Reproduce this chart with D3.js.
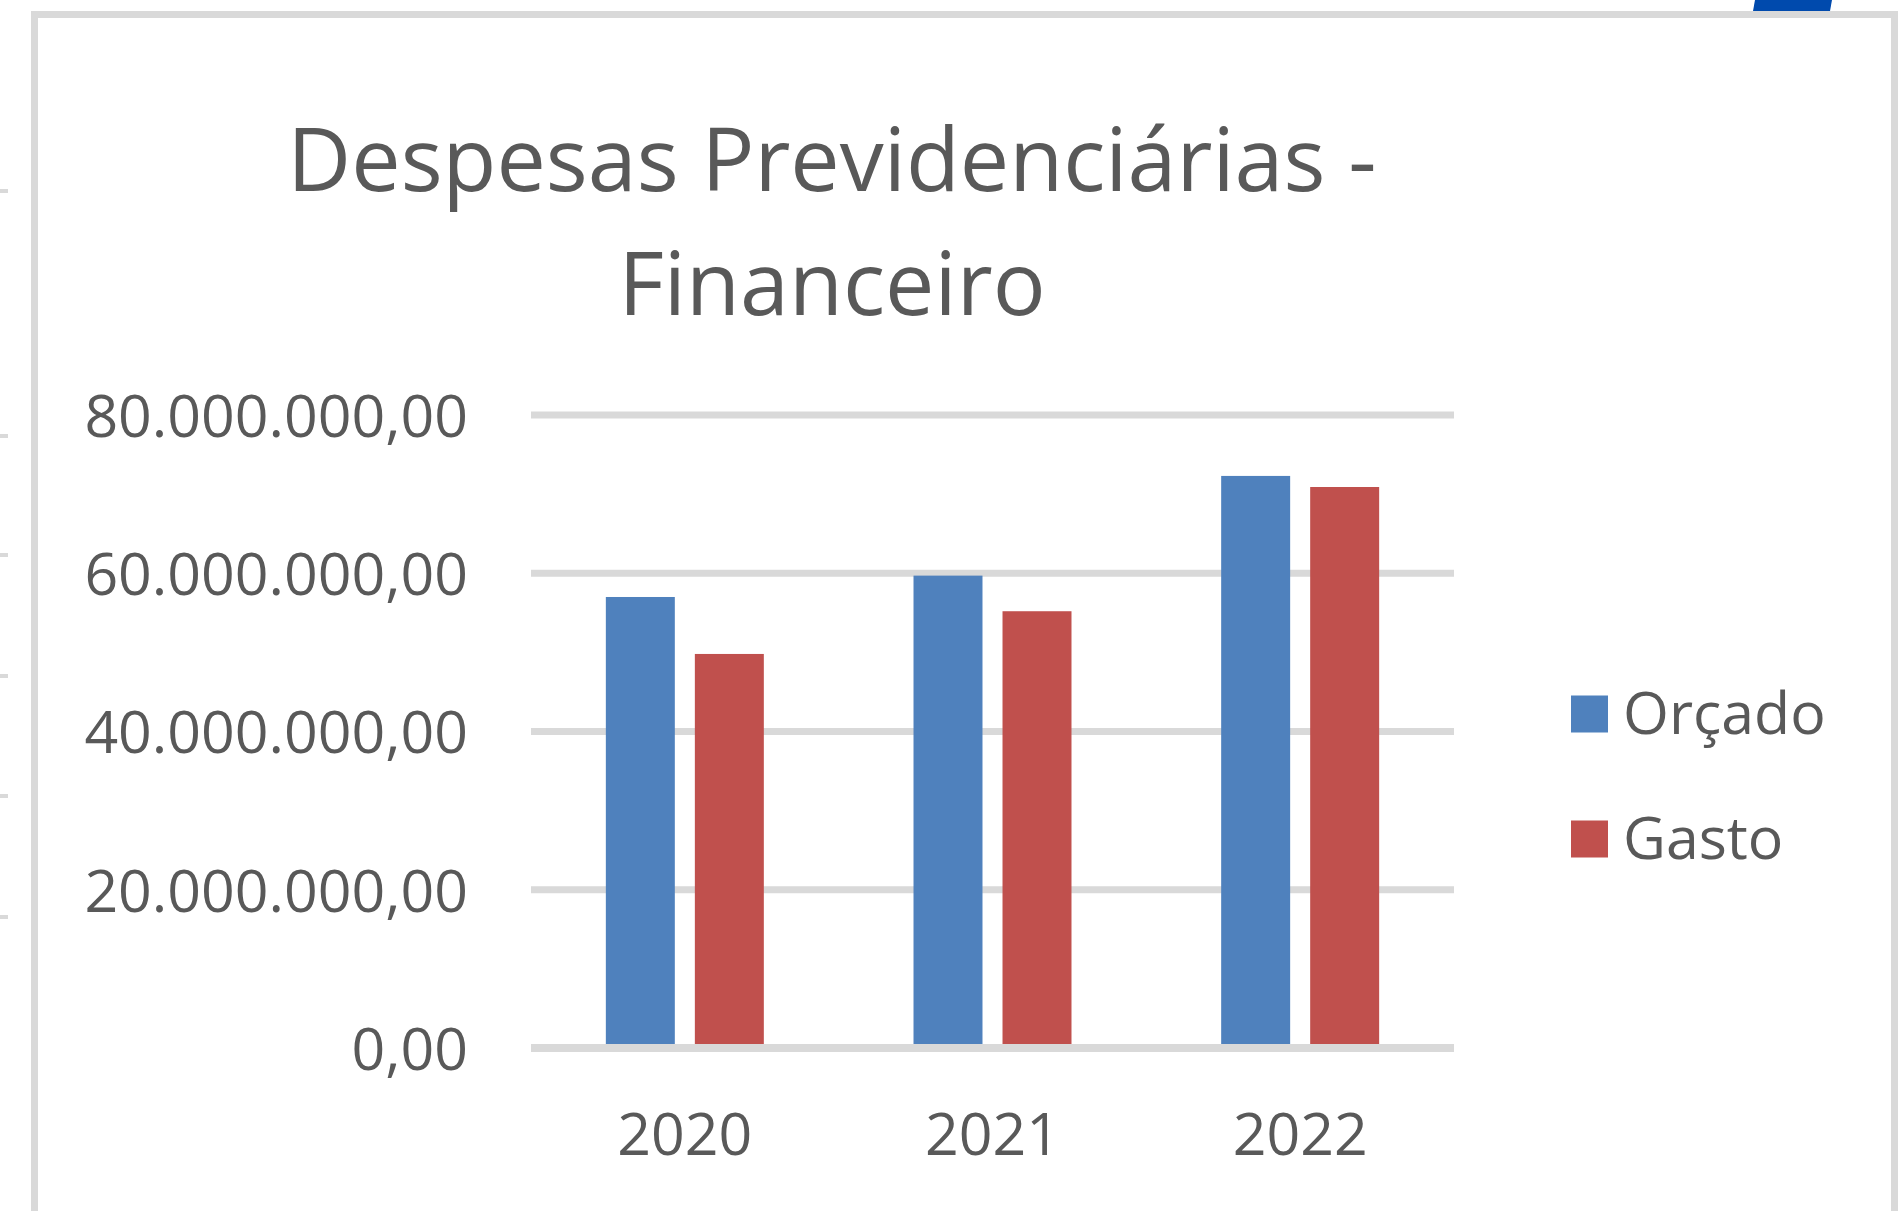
<!DOCTYPE html>
<html lang="pt-BR">
<head>
<meta charset="utf-8">
<title>Despesas Previdenciárias - Financeiro</title>
<script src="https://cdn.jsdelivr.net/npm/d3@7"></script>
<style>
  html, body { margin: 0; padding: 0; background: #fff; overflow: hidden; }
  svg { display: block; font-family: 'Open Sans', 'Noto Sans', sans-serif; }
</style>
</head>
<body>
<div id="chart"></div>
<script>
const years = ['2020', '2021', '2022'];
const seriesNames = ['Orçado', 'Gasto'];
const orcadoValues = [57.0e6, 59.7e6, 72.3e6];
const gastoValues = [49.8e6, 55.2e6, 70.9e6];
const yTickValues = [0, 20e6, 40e6, 60e6, 80e6];
const titleLines = ['Despesas Previdenciárias -', 'Financeiro'];

document.addEventListener('DOMContentLoaded', () => {
    const width = 1898, height = 1211;
    const textColor = '#595959';
    const gridColor = '#d9d9d9';

    const rows = years.map((year, i) => ({year, values: [orcadoValues[i], gastoValues[i]]}));

    const ptBR = d3.formatLocale({decimal: ',', thousands: '.', grouping: [3], currency: ['R$ ', '']});
    const fmt = ptBR.format(',.2f');

    const svg = d3.select('#chart').append('svg')
        .attr('width', width)
        .attr('height', height);

    svg.append('rect').attr('width', width).attr('height', height).attr('fill', '#fff');

    // bits of the spreadsheet showing around the chart
    svg.selectAll('rect.rowmark')
        .data([191, 436, 555, 676, 796, 917])
        .join('rect')
        .attr('class', 'rowmark')
        .attr('x', 0).attr('y', d => d - 2)
        .attr('width', 8).attr('height', 4)
        .attr('fill', gridColor);
    svg.append('polygon')
        .attr('points', '1755,0 1832,0 1830,11 1753,11')
        .attr('fill', '#004aad');

    // chart area frame
    svg.append('rect')
        .attr('x', 34.5).attr('y', 14.5)
        .attr('width', 1860).attr('height', 1260)
        .attr('fill', '#fff')
        .attr('stroke', gridColor)
        .attr('stroke-width', 7);

    // scales
    const plot = {left: 531, right: 1454, top: 415, bottom: 1048};
    const y = d3.scaleLinear().domain([0, 80e6]).range([plot.bottom, plot.top]);
    const x0 = d3.scaleBand().domain(years).range([plot.left, plot.right])
        .paddingInner(0.4865).paddingOuter(0.24325);
    const x1 = d3.scaleBand().domain(seriesNames).range([0, x0.bandwidth()]).paddingInner(0.225);
    const color = d3.scaleOrdinal().domain(seriesNames).range(['#4f81bd', '#c0504d']);

    // gridlines
    svg.append('g')
        .selectAll('line')
        .data(yTickValues.filter(v => v > 0))
        .join('line')
        .attr('x1', plot.left).attr('x2', plot.right)
        .attr('y1', d => y(d)).attr('y2', d => y(d))
        .attr('stroke', gridColor)
        .attr('stroke-width', 7);

    // bars
    svg.append('g')
        .selectAll('g')
        .data(rows)
        .join('g')
        .attr('transform', d => `translate(${x0(d.year)},0)`)
        .selectAll('rect')
        .data(d => d.values.map((v, i) => ({name: seriesNames[i], value: v})))
        .join('rect')
        .attr('x', d => x1(d.name))
        .attr('y', d => y(d.value))
        .attr('width', x1.bandwidth())
        .attr('height', d => y(0) - y(d.value))
        .attr('fill', d => color(d.name));

    // baseline
    svg.append('line')
        .attr('x1', plot.left).attr('x2', plot.right)
        .attr('y1', y(0)).attr('y2', y(0))
        .attr('stroke', gridColor)
        .attr('stroke-width', 8);

    // y axis
    const yAxis = svg.append('g')
        .attr('transform', `translate(${plot.left},0)`)
        .call(d3.axisLeft(y).tickValues(yTickValues).tickSize(0).tickPadding(63).tickFormat(fmt));
    yAxis.select('.domain').remove();
    yAxis.selectAll('text')
        .attr('fill', textColor)
        .attr('font-size', 59)
        .attr('font-family', "'Open Sans', 'Noto Sans', sans-serif")
        .attr('dy', '0.36em')
        .each(function() {
            const w = this.getComputedTextLength();
            if (w > 385) d3.select(this).attr('textLength', 385).attr('lengthAdjust', 'spacingAndGlyphs');
        });

    // x axis
    const xAxis = svg.append('g')
        .attr('transform', `translate(0,${plot.bottom})`)
        .call(d3.axisBottom(x0).tickSize(0).tickPadding(65));
    xAxis.select('.domain').remove();
    xAxis.selectAll('text')
        .attr('fill', textColor)
        .attr('font-size', 59)
        .attr('font-family', "'Open Sans', 'Noto Sans', sans-serif");

    // title
    svg.append('text')
        .attr('text-anchor', 'middle')
        .attr('fill', textColor)
        .attr('font-size', 88)
        .selectAll('tspan')
        .data(titleLines)
        .join('tspan')
        .attr('x', 832)
        .attr('y', (d, i) => 191 + i * 124)
        .text(d => d);

    // legend
    const legend = svg.append('g')
        .selectAll('g')
        .data(seriesNames)
        .join('g')
        .attr('transform', (d, i) => `translate(1571,${714 + i * 125})`);
    legend.append('rect')
        .attr('x', 0).attr('y', -18.5)
        .attr('width', 37).attr('height', 37)
        .attr('fill', d => color(d));
    legend.append('text')
        .attr('x', 52).attr('y', 20)
        .attr('fill', textColor)
        .attr('font-size', 59)
        .text(d => d);
});
</script>
</body>
</html>
